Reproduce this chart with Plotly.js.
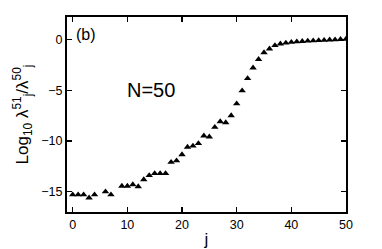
<!DOCTYPE html>
<html>
<head>
<meta charset="utf-8">
<script src="https://cdn.plot.ly/plotly-3.0.1.min.js"></script>
<style>html,body{margin:0;padding:0;background:#fff;}#chart{width:382px;height:249px;}</style>
</head>
<body>
<div id="chart"></div>
<script>
const jIndex = [0,1,2,3,4,6,7,9,10,11,12,13,14,15,16,17,18,19,20,21,22,23,24,25,26,27,28,29,30,31,32,33,34,35,36,37,38,39,40,41,42,43,44,45,46,47,48,49,50];
const logRatio = [-15.3,-15.3,-15.3,-15.6,-15.3,-15.0,-15.3,-14.45,-14.45,-14.3,-14.5,-13.8,-13.4,-13.2,-13.2,-13.2,-12.1,-11.95,-11.35,-10.6,-10.5,-10.25,-9.5,-9.6,-8.65,-8.1,-8.2,-7.5,-6.33,-5.05,-3.85,-2.8,-1.97,-1.3,-0.93,-0.6,-0.44,-0.35,-0.28,-0.23,-0.19,-0.16,-0.13,-0.11,-0.08,-0.05,-0.03,0.0,0.03];
const xTicks = [0,10,20,30,40,50];
const yTicks = [0,-5,-10,-15];
const panelLabel = "(b)";
const sizeLabel = "N=50";

const FONT = "Liberation Sans, Arial, Helvetica, sans-serif";

Plotly.newPlot('chart', [{
  x: jIndex, y: logRatio, type: 'scatter', mode: 'markers',
  marker: {symbol: 'triangle-up', size: 6.5, color: '#000'},
  showlegend: false
}], {
  width: 382, height: 249,
  margin: {l: 67, r: 36.3, t: 17, b: 37.3},
  paper_bgcolor: '#fff', plot_bgcolor: '#fff',
  font: {family: FONT, color: '#000', size: 12.5},
  xaxis: {
    range: [-1.04, 50], tickvals: xTicks, ticks: 'inside', ticklen: 5, tickwidth: 1.2,
    tickcolor: '#000', showline: true, linecolor: '#000', linewidth: 2, mirror: 'allticks',
    showgrid: false, zeroline: false, tickfont: {size: 12.5, family: FONT},
    title: {text: 'j', font: {size: 17, family: FONT}, standoff: 2}
  },
  yaxis: {
    range: [-17, 2.2], tickvals: yTicks, ticks: 'inside', ticklen: 5, tickwidth: 1.2,
    tickcolor: '#000', showline: true, linecolor: '#000', linewidth: 2, mirror: 'allticks',
    showgrid: false, zeroline: false, tickfont: {size: 12.5, family: FONT},
    title: {text: 'Log<sub>10</sub> λ<sup>51</sup><sub>j</sub>/λ<sup>50</sup><sub>j</sub>', font: {size: 17, family: FONT}, standoff: 8}
  },
  annotations: [
    {text: panelLabel, xref: 'paper', yref: 'paper', x: 0.025, y: 0.91, xanchor: 'left', yanchor: 'middle', showarrow: false, font: {size: 16, family: FONT}},
    {text: sizeLabel, xref: 'x', yref: 'y', x: 14.4, y: -5.0, xanchor: 'center', yanchor: 'middle', showarrow: false, font: {size: 20, family: FONT}}
  ]
}, {displayModeBar: false, staticPlot: true});
</script>
</body>
</html>
